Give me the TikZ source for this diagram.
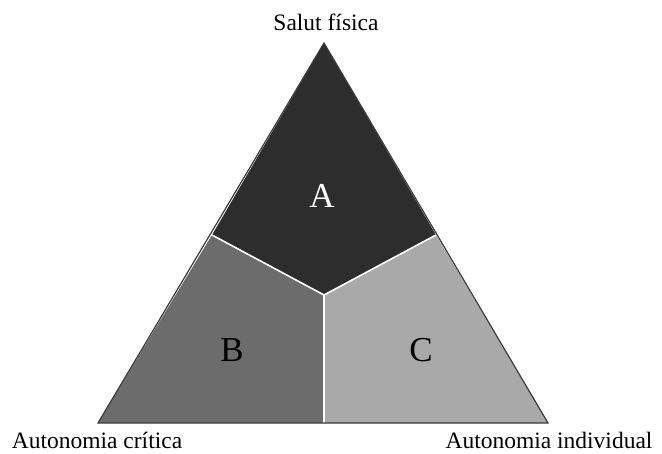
\documentclass[tikz,border=0pt]{standalone}
\usepackage{fontspec}
\setmainfont{Liberation Serif}
\definecolor{regA}{HTML}{2D2D2D}
\definecolor{regB}{HTML}{6C6C6C}
\definecolor{regC}{HTML}{A9A9A9}
\definecolor{rim}{HTML}{3A3A3A}
\begin{document}
\begin{tikzpicture}[x=1pt,y=-1pt,
  divider/.style={draw=white,line width=1.6pt},
  corner/.style={font=\fontsize{23.5}{26}\selectfont,inner sep=0pt},
  letter/.style={font=\fontsize{35}{38}\selectfont,inner sep=0pt}]
\useasboundingbox (0,0) rectangle (662,453);
% triangle vertices and inner split points
\coordinate (top) at (324,43);
\coordinate (bl) at (98,423);
\coordinate (br) at (548,423);
\coordinate (ml) at (212,235);
\coordinate (mr) at (436,235);
\coordinate (ctr) at (324,295);
\coordinate (mb) at (324,423);
% regions
\fill[regA] (top) -- (mr) -- (ctr) -- (ml) -- cycle;
\fill[regB] (ml) -- (ctr) -- (mb) -- (bl) -- cycle;
\fill[regC] (ctr) -- (mr) -- (br) -- (mb) -- cycle;
% dividing lines
\draw[divider] (ml) -- (ctr) -- (mr);
\draw[divider] (ctr) -- (mb);
% outline
\draw[rim,line width=1.2pt,line join=miter] (top) -- (br) -- (bl) -- cycle;
% region letters
\node[letter,text=white] (la) at (322,196) {A};
\node[letter] (lb) at (232,350) {B};
\node[letter] (lc) at (421,350) {C};
% corner labels
\node[corner] (sf) at (326,22) {Salut física};
\node[corner] (ac) at (97,440) {Autonomia crítica};
\node[corner] (ai) at (549,440) {Autonomia individual};
\end{tikzpicture}
\end{document}
